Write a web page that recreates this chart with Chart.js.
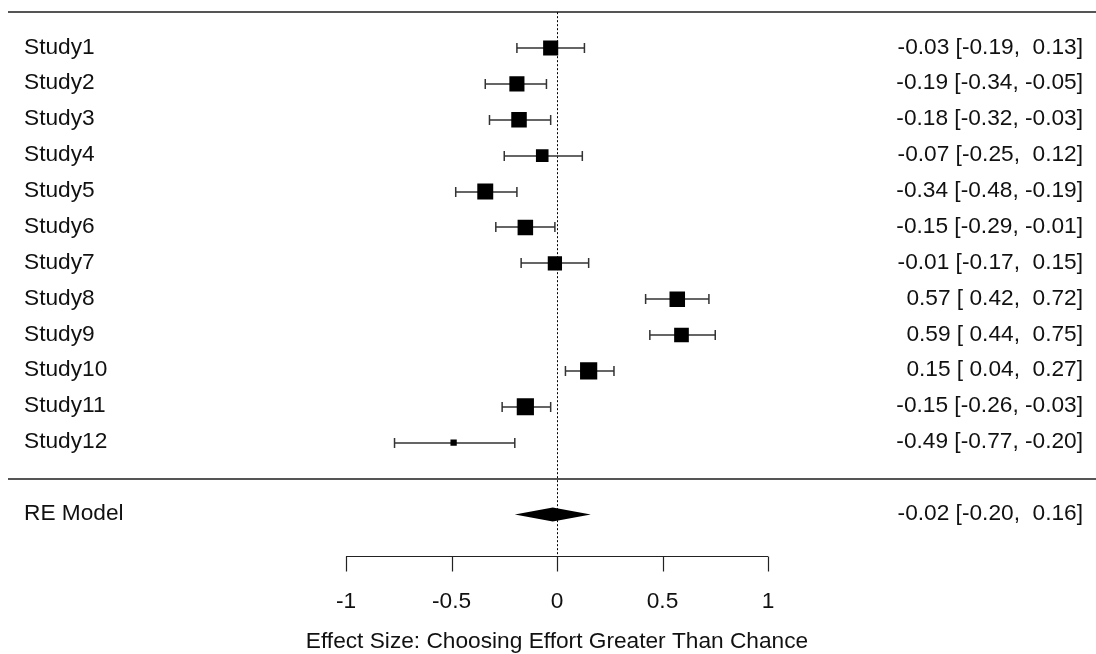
<!DOCTYPE html>
<html>
<head>
<meta charset="utf-8">
<script src="https://cdn.jsdelivr.net/npm/chart.js@4/dist/chart.umd.min.js"></script>
<style>
  html, body { margin: 0; padding: 0; background: #ffffff; }
  #wrap { width: 1096px; height: 654px; }
</style>
</head>
<body>
<div id="wrap"><canvas id="c" width="1096" height="654"></canvas></div>
<script>
// ---- data ----
const studies = ['Study1','Study2','Study3','Study4','Study5','Study6','Study7','Study8','Study9','Study10','Study11','Study12'];
const estimates = [-0.03, -0.19, -0.18, -0.07, -0.34, -0.15, -0.01, 0.57, 0.59, 0.15, -0.15, -0.49];
const lowerCI  = [-0.19, -0.34, -0.32, -0.25, -0.48, -0.29, -0.17, 0.42, 0.44, 0.04, -0.26, -0.77];
const upperCI  = [ 0.13, -0.05, -0.03,  0.12, -0.19, -0.01,  0.15, 0.72, 0.75, 0.27, -0.03, -0.20];
const weights  = [8.5, 8.5, 8.6, 7.9, 8.7, 8.6, 8.3, 8.6, 8.4, 9.0, 9.0, 6.4];
const modelLabel = 'RE Model';
const modelEst = -0.02, modelLower = -0.20, modelUpper = 0.16;
const tickValues = [-1, -0.5, 0, 0.5, 1];
const tickLabels = ['-1', '-0.5', '0', '0.5', '1'];
const xTitle = 'Effect Size: Choosing Effort Greater Than Chance';

// ---- derived ----
const k = studies.length;
const rows = studies.map((_, i) => k - i);          // Study1 at top row
const wMin = Math.min(...weights), wMax = Math.max(...weights);
const sideFor = w => 6.3 + (w - wMin) / (wMax - wMin) * 10.9;
const FONT = '22.7px "Liberation Sans", Arial, sans-serif';
const pad5 = v => { const s = v.toFixed(2); return s.length < 5 ? ' '.repeat(5 - s.length) + s : s; };
const ciText = (e, l, u) => e.toFixed(2) + ' [' + pad5(l) + ', ' + pad5(u) + ']';

const forestPlugin = {
  id: 'forest',
  beforeDatasetsDraw(chart) {
    const ctx = chart.ctx, xs = chart.scales.x, ys = chart.scales.y;
    const W = chart.width;
    ctx.save();
    // horizontal rules
    ctx.strokeStyle = '#555';
    ctx.lineWidth = 2;
    [k + 1, 0].forEach(r => {
      const y = Math.round(ys.getPixelForValue(r));
      ctx.beginPath(); ctx.moveTo(8, y); ctx.lineTo(W, y); ctx.stroke();
    });
    // reference line
    ctx.strokeStyle = '#000';
    ctx.lineWidth = 1;
    ctx.setLineDash([2, 2]);
    const x0 = Math.round(xs.getPixelForValue(0)) + 0.5;
    ctx.beginPath();
    ctx.moveTo(x0, ys.getPixelForValue(k + 1));
    ctx.lineTo(x0, ys.getPixelForValue(ys.min));
    ctx.stroke();
    ctx.setLineDash([]);
    // CI whiskers
    ctx.strokeStyle = '#333';
    ctx.lineWidth = 1.5;
    for (let i = 0; i < k; i++) {
      const y = Math.round(ys.getPixelForValue(rows[i]));
      const xl = xs.getPixelForValue(lowerCI[i]);
      const xu = xs.getPixelForValue(upperCI[i]);
      ctx.beginPath();
      ctx.moveTo(xl, y); ctx.lineTo(xu, y);
      ctx.moveTo(xl, y - 5); ctx.lineTo(xl, y + 5);
      ctx.moveTo(xu, y - 5); ctx.lineTo(xu, y + 5);
      ctx.stroke();
    }
    // diamond
    const yd = ys.getPixelForValue(-1);
    ctx.fillStyle = '#000';
    ctx.beginPath();
    ctx.moveTo(xs.getPixelForValue(modelLower), yd);
    ctx.lineTo(xs.getPixelForValue(modelEst), yd - 7);
    ctx.lineTo(xs.getPixelForValue(modelUpper), yd);
    ctx.lineTo(xs.getPixelForValue(modelEst), yd + 7);
    ctx.closePath();
    ctx.fill();
    // axis
    const ya = Math.round(ys.getPixelForValue(ys.min)) + 0.5;
    ctx.strokeStyle = '#222';
    ctx.lineWidth = 1.2;
    ctx.beginPath();
    ctx.moveTo(xs.getPixelForValue(tickValues[0]), ya);
    ctx.lineTo(xs.getPixelForValue(tickValues[tickValues.length - 1]), ya);
    tickValues.forEach(v => {
      const x = Math.round(xs.getPixelForValue(v)) + 0.5;
      ctx.moveTo(x, ya); ctx.lineTo(x, ya + 15);
    });
    ctx.stroke();
    // text
    ctx.font = FONT;
    ctx.fillStyle = '#111';
    ctx.textBaseline = 'alphabetic';
    ctx.textAlign = 'center';
    tickValues.forEach((v, i) => ctx.fillText(tickLabels[i], xs.getPixelForValue(v), ya + 51));
    ctx.fillText(xTitle, xs.getPixelForValue(0), ya + 91);
    for (let i = 0; i < k; i++) {
      const y = ys.getPixelForValue(rows[i]) + 5.5;
      ctx.textAlign = 'left';
      ctx.fillText(studies[i], 24, y);
      ctx.textAlign = 'right';
      ctx.fillText(ciText(estimates[i], lowerCI[i], upperCI[i]), 1083, y);
    }
    const yr = ys.getPixelForValue(-1) + 5.5;
    ctx.textAlign = 'left';
    ctx.fillText(modelLabel, 24, yr);
    ctx.textAlign = 'right';
    ctx.fillText(ciText(modelEst, modelLower, modelUpper), 1083, yr);
    ctx.restore();
  }
};

new Chart(document.getElementById('c'), {
  type: 'scatter',
  data: {
    datasets: [{
      data: estimates.map((e, i) => ({ x: e, y: rows[i] })),
      pointStyle: 'rect',
      pointRadius: weights.map(w => sideFor(w) / (2 * Math.SQRT1_2)),
      pointHoverRadius: weights.map(w => sideFor(w) / (2 * Math.SQRT1_2)),
      backgroundColor: '#000',
      borderWidth: 0
    }]
  },
  options: {
    responsive: false,
    animation: false,
    devicePixelRatio: 1,
    layout: { padding: { left: 346, right: 328, top: 10, bottom: 98 } },
    plugins: { legend: { display: false }, tooltip: { enabled: false } },
    scales: {
      x: { type: 'linear', min: -1, max: 1, display: false },
      y: { type: 'linear', min: -2.16, max: 13, display: false }
    }
  },
  plugins: [forestPlugin]
});
</script>
</body>
</html>
